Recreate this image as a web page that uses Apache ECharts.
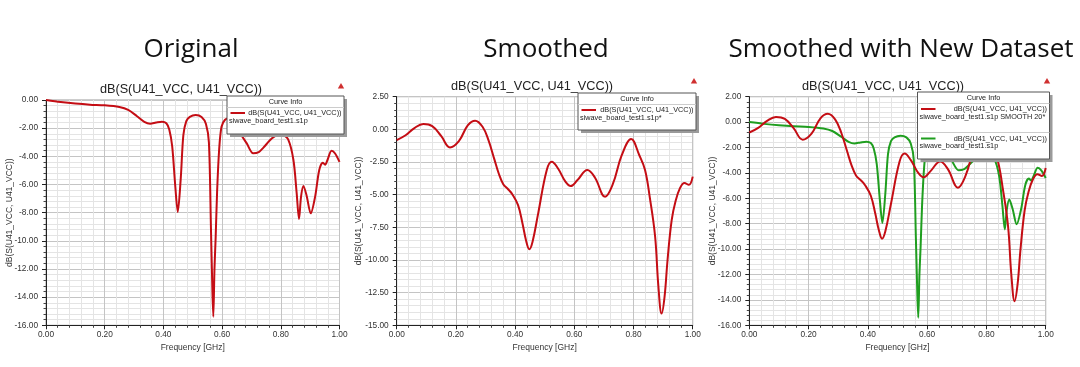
<!DOCTYPE html>
<html>
<head>
<meta charset="utf-8">
<script src="https://cdn.jsdelivr.net/npm/echarts@6/dist/echarts.min.js"></script>
<style>
html,body{margin:0;padding:0;background:#fff;}
#c{width:1080px;height:367px;}
</style>
</head>
<body>
<div id="c"></div>
<script>
// ---- data ----
const panelHeadings = ['Original', 'Smoothed', 'Smoothed with New Dataset'];
const plotTitle = 'dB(S(U41_VCC, U41_VCC))';
const xAxisName = 'Frequency [GHz]';
const yAxisName = 'dB(S(U41_VCC, U41_VCC))';

const origFreq = [0.00,0.05,0.10,0.15,0.20,0.25,0.28,0.31,0.335,0.355,0.375,0.395,0.41,0.42,0.43,0.44,0.449,0.459,0.468,0.478,0.49,0.51,0.53,0.545,0.555,0.562,0.567,0.570,0.574,0.578,0.583,0.590,0.598,0.61,0.625,0.64,0.66,0.684,0.706,0.725,0.74,0.77,0.79,0.805,0.825,0.843,0.854,0.862,0.869,0.877,0.888,0.902,0.917,0.931,0.943,0.951,0.959,0.973,0.985,1.00];
const origDb = [0.00,-0.14,-0.25,-0.33,-0.38,-0.50,-0.70,-1.15,-1.55,-1.68,-1.60,-1.54,-1.65,-2.1,-3.3,-6.0,-7.95,-5.6,-2.5,-1.5,-1.2,-1.07,-1.2,-1.7,-3.0,-9.1,-13.6,-15.4,-12.0,-9.8,-6.5,-3.5,-1.9,-1.4,-1.3,-1.5,-2.3,-3.08,-3.79,-3.7,-3.4,-2.72,-2.5,-2.49,-2.8,-4.26,-6.6,-8.45,-6.86,-6.1,-6.8,-8.05,-6.86,-4.97,-4.45,-4.6,-4.26,-3.6,-3.8,-4.4];

const smoothFreq = [0.00,0.03,0.06,0.09,0.12,0.15,0.18,0.21,0.24,0.265,0.29,0.31,0.33,0.345,0.36,0.375,0.39,0.41,0.425,0.437,0.448,0.459,0.478,0.507,0.524,0.545,0.57,0.588,0.61,0.644,0.67,0.704,0.73,0.76,0.792,0.82,0.839,0.855,0.873,0.884,0.895,0.905,0.915,0.929,0.942,0.957,0.972,0.987,1.00];
const smoothDb = [-0.82,-0.45,0.10,0.41,0.25,-0.50,-1.38,-0.90,0.30,0.66,0.20,-0.82,-2.30,-3.40,-4.20,-4.55,-4.95,-5.80,-7.20,-8.50,-9.18,-8.60,-6.43,-3.11,-2.48,-3.00,-4.00,-4.34,-3.90,-3.11,-3.70,-5.16,-4.20,-2.00,-0.74,-2.00,-3.11,-5.20,-8.20,-12.0,-14.1,-12.8,-10.0,-6.94,-5.50,-4.50,-4.10,-4.25,-3.62];

const legendHeader = 'Curve Info';
const legendLine1 = 'dB(S(U41_VCC, U41_VCC))';
const legendOrigFile = 'siwave_board_test1.s1p';
const legendSmoothFile2 = 'siwave_board_test1.s1p*';
const legendSmoothFile3 = 'siwave_board_test1.s1p SMOOTH 20*';

const RED = '#c40d14';
const GREEN = '#1f9e1f';

function zip(xs, ys){ return xs.map((x,i)=>[x, ys[i]]); }

// ---- layout ----
const grids = [
  {left:46, top:100, width:293.5, height:225.3},
  {left:396.7, top:96.7, width:296, height:228.6},
  {left:749.3, top:96.7, width:296.4, height:228.6}
];
const yRanges = [
  {min:-16, max:0, interval:2},
  {min:-15, max:2.5, interval:2.5},
  {min:-16, max:2, interval:2}
];
const yNameGaps = [32, 34, 32];

const FONT = 'Liberation Sans, Arial, sans-serif';

const xAxes = grids.map((g,i)=>({
  type:'value', gridIndex:i, min:0, max:1, interval:0.2,
  name:xAxisName, nameLocation:'middle', nameGap:12,
  nameTextStyle:{fontFamily:FONT, fontSize:8.5, color:'#333'},
  axisLine:{show:true, onZero:false, lineStyle:{color:'#222', width:1}},
  axisTick:{show:true, length:4, lineStyle:{color:'#222'}},
  minorTick:{show:true, splitNumber:5, length:2.5, lineStyle:{color:'#444'}},
  splitLine:{show:true, lineStyle:{color:'#c4c4c4', width:1}},
  minorSplitLine:{show:true, lineStyle:{color:'#e4e4e4', width:1}},
  axisLabel:{fontFamily:FONT, fontSize:8.3, color:'#333', margin:5,
    formatter:v=>v.toFixed(2)}
}));
const yAxes = grids.map((g,i)=>({
  type:'value', gridIndex:i, min:yRanges[i].min, max:yRanges[i].max, interval:yRanges[i].interval,
  name:yAxisName, nameLocation:'middle', nameGap:yNameGaps[i], nameRotate:90,
  nameMoveOverlap:false,
  nameTextStyle:{fontFamily:FONT, fontSize:8.5, color:'#333'},
  axisLine:{show:true, onZero:false, lineStyle:{color:'#222', width:1}},
  axisTick:{show:true, length:4, lineStyle:{color:'#222'}},
  minorTick:{show:true, splitNumber:5, length:2.5, lineStyle:{color:'#444'}},
  splitLine:{show:true, lineStyle:{color:'#c4c4c4', width:1}},
  minorSplitLine:{show:true, lineStyle:{color:'#e4e4e4', width:1}},
  axisLabel:{fontFamily:FONT, fontSize:8.3, color:'#333', margin:8,
    formatter:v=>v.toFixed(2)}
}));

function lineSeries(name, xi, data, color, smooth){
  return {
    name, type:'line', xAxisIndex:xi, yAxisIndex:xi, data,
    showSymbol:false, smooth:smooth, animation:false,
    lineStyle:{color, width:2}, itemStyle:{color}, z:5
  };
}

const series = [
  lineSeries('orig1', 0, zip(origFreq, origDb), RED, 0.3),
  lineSeries('smooth2', 1, zip(smoothFreq, smoothDb), RED, 0.4),
  lineSeries('orig3', 2, zip(origFreq, origDb), GREEN, 0.3),
  lineSeries('smooth3', 2, zip(smoothFreq, smoothDb), RED, 0.4)
];

const headCenters = [186, 541, 896];
const plotTitleCenters = [176, 527, 878];
const plotTitleY = [78, 75, 75];

const titles = [];
panelHeadings.forEach((h,i)=>{
  titles.push({text:h, left:headCenters[i], top:32, textAlign:'center',
    textStyle:{fontFamily:'Open Sans, Noto Sans, sans-serif', fontSize:26, fontWeight:'normal', color:'#111'}});
  titles.push({text:plotTitle, left:plotTitleCenters[i], top:plotTitleY[i], textAlign:'center',
    textStyle:{fontFamily:FONT, fontSize:12.7, fontWeight:'normal', color:'#222'}});
});

// legend boxes (graphic)
const LF = 7.3;
function legendBox(x, y, w, h, entries){
  const els = [];
  els.push({type:'rect', shape:{x:x+3, y:y+3, width:w, height:h}, style:{fill:'#9a9a9a'}, z:20, silent:true});
  els.push({type:'rect', shape:{x:x, y:y, width:w, height:h}, style:{fill:'#fff', stroke:'#555', lineWidth:1}, z:21, silent:true});
  els.push({type:'text', x:x+w/2, y:y+6, z:22, style:{text:legendHeader, fontFamily:FONT, fontSize:LF, fill:'#222', align:'center', verticalAlign:'middle'}});
  els.push({type:'line', shape:{x1:x, y1:y+11.5, x2:x+w, y2:y+11.5}, style:{stroke:'#ccc', lineWidth:1}, z:22});
  entries.forEach((e,k)=>{
    const l1 = y + 17 + k*29.5;
    if(k>0){
      els.push({type:'line', shape:{x1:x, y1:l1-6, x2:x+w, y2:l1-6}, style:{stroke:'#ccc', lineWidth:1}, z:22});
    }
    els.push({type:'line', shape:{x1:x+3.5, y1:l1, x2:x+18, y2:l1}, style:{stroke:e.color, lineWidth:2}, z:22});
    els.push({type:'text', x:x+w-2.5, y:l1, z:22, style:{text:legendLine1, fontFamily:FONT, fontSize:LF, fill:'#222', align:'right', verticalAlign:'middle'}});
    els.push({type:'text', x:x+2, y:l1+7.5, z:22, style:{text:e.file, fontFamily:FONT, fontSize:LF, fill:'#222', align:'left', verticalAlign:'middle'}});
  });
  return els;
}
function triangle(cx, cy){
  return {type:'polygon', shape:{points:[[cx,cy-3],[cx-3.2,cy+2.5],[cx+3.2,cy+2.5]]}, style:{fill:'#d03030'}, z:22};
}

const graphic = [].concat(
  legendBox(227, 96, 117, 38, [{color:RED, file:legendOrigFile}]),
  legendBox(578, 93, 118, 37, [{color:RED, file:legendSmoothFile2}]),
  legendBox(917.5, 92, 132, 67, [{color:RED, file:legendSmoothFile3},{color:GREEN, file:legendOrigFile}]),
  [triangle(341,86), triangle(694,81), triangle(1047,81)]
);

const chart = echarts.init(document.getElementById('c'), null, {renderer:'canvas'});
chart.setOption({
  animation:false,
  backgroundColor:'#fff',
  title:titles,
  grid:grids.map(g=>Object.assign({show:true, borderColor:'#9a9a9a', borderWidth:1, containLabel:false}, g)),
  xAxis:xAxes,
  yAxis:yAxes,
  series,
  graphic
});
</script>
</body>
</html>
